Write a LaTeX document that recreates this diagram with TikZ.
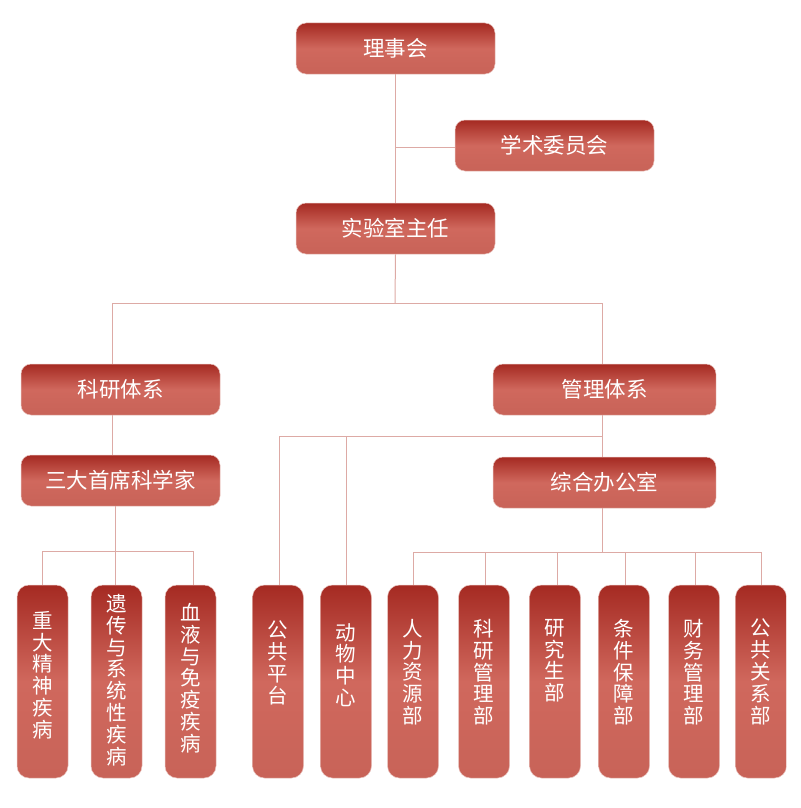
\documentclass[tikz,border=0pt]{standalone}
\usepackage{fontspec}
\setmainfont{Noto Sans CJK SC}
\definecolor{dk}{HTML}{A52A22}
\definecolor{md}{HTML}{D0685D}
\definecolor{lt}{HTML}{C86358}
\definecolor{ln}{HTML}{DDAAA5}
\definecolor{ed}{HTML}{E9C3BE}
\begin{document}
\begin{tikzpicture}[x=1pt,y=-1pt,
 hbox/.style={rounded corners=10pt, top color=dk, bottom color=lt, middle color=md, draw=ed, line width=0.5pt, minimum width=199pt, minimum height=51pt, text=white, font=\fontsize{21.5}{24}\selectfont, inner sep=0pt},
 wbox/.style={hbox, minimum width=223pt},
 vbox/.style={rounded corners=12pt, top color=dk, bottom color=lt, middle color=md, draw=ed, line width=0.5pt, minimum width=51pt, minimum height=193pt, inner sep=0pt},
 vtxt/.style={text=white, font=\fontsize{20.5}{21.8}\selectfont, align=center, anchor=north, inner sep=0pt},
 conn/.style={draw=ln, line width=1pt}
]
\useasboundingbox (0,0) rectangle (800,808);

\coordinate (jA) at (395,147);
\coordinate (jB) at (395,303);
\coordinate (jBL) at (112,303);
\coordinate (jBR) at (602,303);
\coordinate (jC) at (115,551);
\coordinate (jCL) at (42,551);
\coordinate (jCR) at (193,551);
\coordinate (jD) at (602,436);
\coordinate (jDL) at (279,436);
\coordinate (jDM) at (346,436);
\coordinate (jE) at (602,552);
\coordinate (jEL) at (413,552);
\coordinate (jER) at (761,552);

% boxes
\node[hbox] (lsh) at (395.5,48.5) {理事会};
\node[hbox] (xs) at (554.5,145.5) {学术委员会};
\node[hbox] (zr) at (395.5,228.5) {实验室主任};
\node[hbox] (ky) at (120.5,389.5) {科研体系};
\node[wbox] (gl) at (604.5,389.5) {管理体系};
\node[hbox] (sd) at (120.5,480.5) {三大首席科学家};
\node[wbox] (zh) at (604.5,482.5) {综合办公室};

\node[vbox] (b1) at (42.5,681.5) {};
\node[vbox] (b2) at (116.5,681.5) {};
\node[vbox] (b3) at (190.5,681.5) {};
\node[vbox] (p1) at (278,681.5) {};
\node[vbox] (p2) at (346,681.5) {};
\node[vbox] (d1) at (413,681.5) {};
\node[vbox] (d2) at (484,681.5) {};
\node[vbox] (d3) at (555,681.5) {};
\node[vbox] (d4) at (624,681.5) {};
\node[vbox] (d5) at (694,681.5) {};
\node[vbox] (d6) at (761,681.5) {};

% connectors
\draw[conn] (lsh.south) -- (zr.north);
\draw[conn] (jA) -- (xs.west |- jA);
\draw[conn] (zr.south) -- (jB);
\draw[conn] (jBL) -- (jBR);
\draw[conn] (jBL) -- (jBL |- ky.north);
\draw[conn] (jBR) -- (jBR |- gl.north);
\draw[conn] (jBL |- ky.south) -- (jBL |- sd.north);
\draw[conn] (jC |- sd.south) -- (jC);
\draw[conn] (jCL) -- (jCR);
\draw[conn] (jCL) -- (jCL |- b1.north);
\draw[conn] (jC) -- (jC |- b2.north);
\draw[conn] (jCR) -- (jCR |- b3.north);
\draw[conn] (jD |- gl.south) -- (jD |- zh.north);
\draw[conn] (jDL) -- (jD);
\draw[conn] (jDL) -- (jDL |- p1.north);
\draw[conn] (jDM) -- (jDM |- p2.north);
\draw[conn] (jE |- zh.south) -- (jE);
\draw[conn] (jEL) -- (jER);
\draw[conn] (jEL) -- (jEL |- d1.north);
\draw[conn] (485,552) -- (485,552 |- d2.north);
\draw[conn] (557,552) -- (557,552 |- d3.north);
\draw[conn] (625,552) -- (625,552 |- d4.north);
\draw[conn] (695,552) -- (695,552 |- d5.north);
\draw[conn] (jER) -- (jER |- d6.north);

% vertical texts
\node[vtxt] (t1) at (42.5,611) {重\\大\\精\\神\\疾\\病};
\node[vtxt] (t2) at (116.5,594) {遗\\传\\与\\系\\统\\性\\疾\\病};
\node[vtxt] (t3) at (190.5,603) {血\\液\\与\\免\\疫\\疾\\病};
\node[vtxt] (t4) at (278,621) {公\\共\\平\\台};
\node[vtxt] (t5) at (346,623) {动\\物\\中\\心};
\node[vtxt] (t6) at (413,619) {人\\力\\资\\源\\部};
\node[vtxt] (t7) at (484,619) {科\\研\\管\\理\\部};
\node[vtxt] (t8) at (555,619) {研\\究\\生\\部};
\node[vtxt] (t9) at (624,619) {条\\件\\保\\障\\部};
\node[vtxt] (t10) at (694,619) {财\\务\\管\\理\\部};
\node[vtxt] (t11) at (761,619) {公\\共\\关\\系\\部};
\end{tikzpicture}
\end{document}
